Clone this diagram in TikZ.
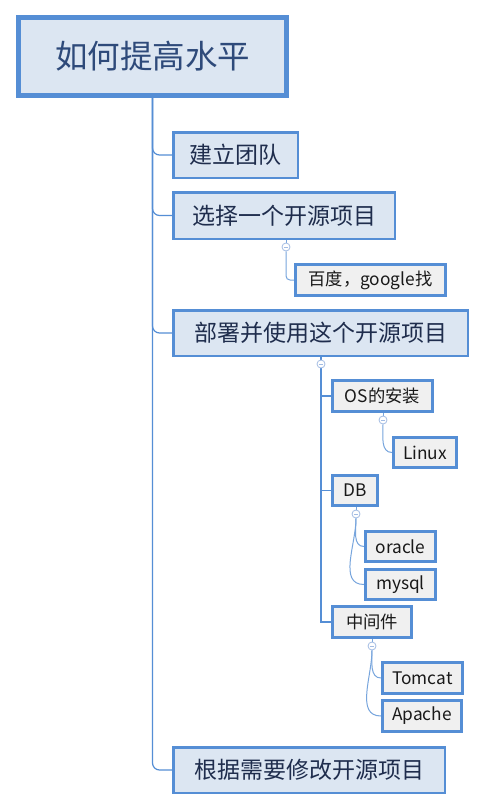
\documentclass[tikz,border=0pt]{standalone}
\usepackage{fontspec}
\setmainfont{Noto Sans CJK SC}
\usetikzlibrary{backgrounds}
\definecolor{bord}{HTML}{558ED5}
\definecolor{lbfill}{HTML}{DCE6F2}
\definecolor{grfill}{HTML}{F0F0F0}
\definecolor{roottext}{HTML}{2E4A7A}
\definecolor{l1text}{HTML}{1F2D4D}
\definecolor{circcol}{HTML}{A3BCE3}
\tikzset{
  rootbox/.style={draw=bord, line width=5pt, fill=lbfill, inner sep=0pt, text=roottext, font=\fontsize{32.5}{38}\selectfont},
  lonebox/.style={draw=bord, line width=2.5pt, fill=lbfill, inner sep=0pt, text=l1text, font=\fontsize{23}{27}\selectfont},
  ltwobox/.style={draw=bord, line width=3pt, fill=grfill, inner sep=0pt, text=black!90, font=\fontsize{17.3}{20}\selectfont},
  conn/.style={draw=bord, line width=1.2pt},
  thinconn/.style={draw=bord!80, line width=1pt},
  collapse/.style={circle, draw=circcol, line width=0.8pt, fill=white, minimum size=8pt, inner sep=0pt,
    path picture={\draw[circcol, line width=0.8pt] ([xshift=-2.2pt]path picture bounding box.center) -- ([xshift=2.2pt]path picture bounding box.center);}}
}
\begin{document}
\begin{tikzpicture}[x=1pt,y=-1pt]
\useasboundingbox (0,0) rectangle (486,811);
% root
\node[rootbox, minimum width=268pt, minimum height=78pt] (root) at (152.5,56.5) {如何提高水平};
% level 1
\node[lonebox, minimum width=124.5pt, minimum height=45.5pt] (A) at (235.5,155) {建立团队};
\node[lonebox, minimum width=221.5pt, minimum height=46.5pt] (B) at (284,215.5) {选择一个开源项目};
\node[lonebox, minimum width=294.5pt, minimum height=45.5pt] (C) at (320.5,333) {部署并使用这个开源项目};
\node[lonebox, minimum width=271.5pt, minimum height=45.5pt] (D) at (309,770) {根据需要修改开源项目};
% level 2/3
\node[ltwobox, minimum width=150pt, minimum height=31pt] (B1) at (370.5,280) {百度，google找};
\node[ltwobox, minimum width=100pt, minimum height=31pt] (C1) at (382.5,396) {OS的安装};
\node[ltwobox, minimum width=63pt, minimum height=30pt] (C1a) at (425,452.5) {Linux};
\node[ltwobox, minimum width=45pt, minimum height=30pt] (C2) at (355,490.5) {DB};
\node[ltwobox, minimum width=70pt, minimum height=30pt] (C2a) at (400.5,546.5) {oracle};
\node[ltwobox, minimum width=70pt, minimum height=30pt] (C2b) at (400.5,584.5) {mysql};
\node[ltwobox, minimum width=79pt, minimum height=31pt] (C3) at (372,622) {中间件};
\node[ltwobox, minimum width=80pt, minimum height=31pt] (C3a) at (422.5,678) {Tomcat};
\node[ltwobox, minimum width=79pt, minimum height=31pt] (C3b) at (422,716) {Apache};
% collapse markers
\node[collapse] (cB) at (286,247) {};
\node[collapse] (cC) at (321,364) {};
\node[collapse] (cC1) at (383,420) {};
\node[collapse] (cC2) at (356,514) {};
\node[collapse] (cC3) at (372,646) {};
\begin{scope}[on background layer]
\fill[white] (0,0) rectangle (486,811);
% trunk
\draw[conn, rounded corners=7pt] (root.south) |- (A.west);
\draw[conn, rounded corners=7pt] (root.south) |- (B.west);
\draw[conn, rounded corners=7pt] (root.south) |- (C.west);
\draw[conn, rounded corners=7pt] (root.south) |- (D.west);
% B children
\draw[thinconn] (cB.north) -- (cB.north |- B.south);
\draw[thinconn, rounded corners=4pt] (cB.south) |- (B1.west);
% C children
\draw[conn] (cC.north) -- (cC.north |- C.south);
\draw[conn] (cC.south) |- (C1.west);
\draw[conn] (cC.south) |- (C2.west);
\draw[conn] (cC.south) |- (C3.west);
% level 3
\draw[thinconn] (cC1.north) -- (cC1.north |- C1.south);
\draw[thinconn] (cC1.south) to[out=-90,in=180] (C1a.west);
\draw[thinconn] (cC2.north) -- (cC2.north |- C2.south);
\draw[thinconn] (cC2.south) to[out=-90,in=180] (C2a.west);
\draw[thinconn] (cC2.south) to[out=-90,in=180] (C2b.west);
\draw[thinconn] (cC3.north) -- (cC3.north |- C3.south);
\draw[thinconn] (cC3.south) to[out=-90,in=180] (C3a.west);
\draw[thinconn] (cC3.south) to[out=-90,in=180] (C3b.west);
\end{scope}
\end{tikzpicture}
\end{document}
